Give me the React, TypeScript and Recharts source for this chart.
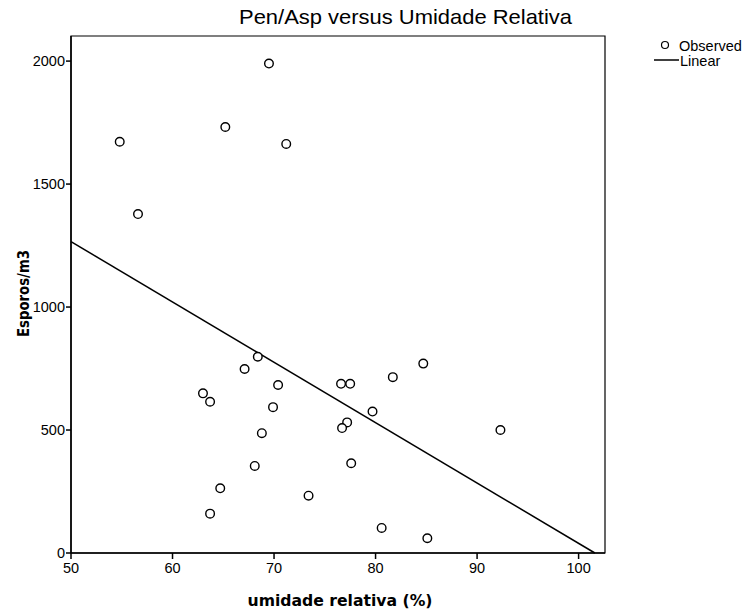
import React from 'react';
import { ScatterChart, Scatter, XAxis, YAxis, ReferenceLine, ReferenceArea, Label } from 'recharts';

const humidity = [69.5, 54.8, 65.2, 71.2, 56.6, 68.4, 67.1, 70.4, 63.0, 63.7, 69.9, 68.8, 68.1, 64.7, 63.7, 76.6, 77.5, 77.2, 76.7, 79.7, 77.6, 73.4, 81.7, 84.7, 92.3, 80.6, 85.1];
const spores = [1990, 1672, 1732, 1663, 1378, 798, 748, 683, 649, 615, 593, 487, 354, 263, 160, 688, 688, 531, 508, 575, 365, 233, 715, 770, 500, 102, 60];
const xTicks = [50, 60, 70, 80, 90, 100];
const yTicks = [0, 500, 1000, 1500, 2000];
const fitStart = { x: 50, y: 1266 };
const fitEnd = { x: 101.6, y: 0 };

const points = humidity.map((h, i) => ({ x: h, y: spores[i] }));

const font = 'Liberation Sans, Arial, sans-serif';
const boldFont = '"DejaVu Sans", Verdana, sans-serif';

const Ring = (props: any) => {
  const { cx, cy } = props;
  return <circle cx={cx} cy={cy} r={4.3} fill="white" stroke="#000" strokeWidth={1.4} />;
};

export default function App() {
  return (
    <div style={{ position: 'absolute', left: 0, top: 0, width: 747, height: 615, background: '#fff', fontFamily: font }}>
      <svg style={{ position: 'absolute', left: 0, top: 0 }} width={747} height={615} pointerEvents="none">
        <text x={239} y={24} fontSize={21} fontFamily={font} fill="#000" textLength={333} lengthAdjust="spacingAndGlyphs">
          Pen/Asp versus Umidade Relativa
        </text>
        <circle cx={665} cy={45} r={3.5} fill="white" stroke="#000" strokeWidth={1.2} />
        <text x={679} y={50.5} fontSize={14.5} fontFamily={font} fill="#000">Observed</text>
        <line x1={654} x2={679} y1={60} y2={60} stroke="#000" strokeWidth={1.5} />
        <text x={680} y={65.5} fontSize={14.5} fontFamily={font} fill="#000">Linear</text>
      </svg>
      <ScatterChart width={747} height={615} margin={{ top: 36, right: 142, bottom: 0, left: 0 }} style={{ position: 'absolute', left: 0, top: 0 }}>
        <XAxis
          type="number"
          dataKey="x"
          domain={[50, 102.6]}
          ticks={xTicks}
          height={62}
          tickSize={6}
          tickMargin={4}
          allowDataOverflow
          axisLine={{ stroke: '#000', strokeWidth: 1.5 }}
          tickLine={{ stroke: '#000', strokeWidth: 1.5 }}
          tick={{ fill: '#000', fontSize: 14.5, fontFamily: font }}
        >
          <Label
            content={() => (
              <text x={340} y={606} textAnchor="middle" fontSize={15} fontWeight="bold" fontFamily={boldFont} fill="#000" textLength={185} lengthAdjust="spacingAndGlyphs">
                umidade relativa (%)
              </text>
            )}
          />
        </XAxis>
        <YAxis
          type="number"
          dataKey="y"
          domain={[0, 2102]}
          ticks={yTicks}
          width={71}
          tickSize={5}
          tickMargin={1}
          allowDataOverflow
          axisLine={{ stroke: '#000', strokeWidth: 1.5 }}
          tickLine={{ stroke: '#000', strokeWidth: 1.5 }}
          tick={{ fill: '#000', fontSize: 14.5, fontFamily: font }}
        >
          <Label
            content={() => (
              <text x={29} y={293.5} transform="rotate(-90 29 293.5)" textAnchor="middle" fontSize={15} fontWeight="bold" fontFamily={boldFont} fill="#000" textLength={87} lengthAdjust="spacingAndGlyphs">
                Esporos/m3
              </text>
            )}
          />
        </YAxis>
        <ReferenceArea x1={50} x2={102.6} y1={0} y2={2102} fill="none" stroke="#000" strokeWidth={1.2} ifOverflow="visible" />
        <ReferenceLine segment={[fitStart, fitEnd]} stroke="#000" strokeWidth={1.5} ifOverflow="visible" />
        <Scatter data={points} shape={<Ring />} isAnimationActive={false} />
      </ScatterChart>
    </div>
  );
}
